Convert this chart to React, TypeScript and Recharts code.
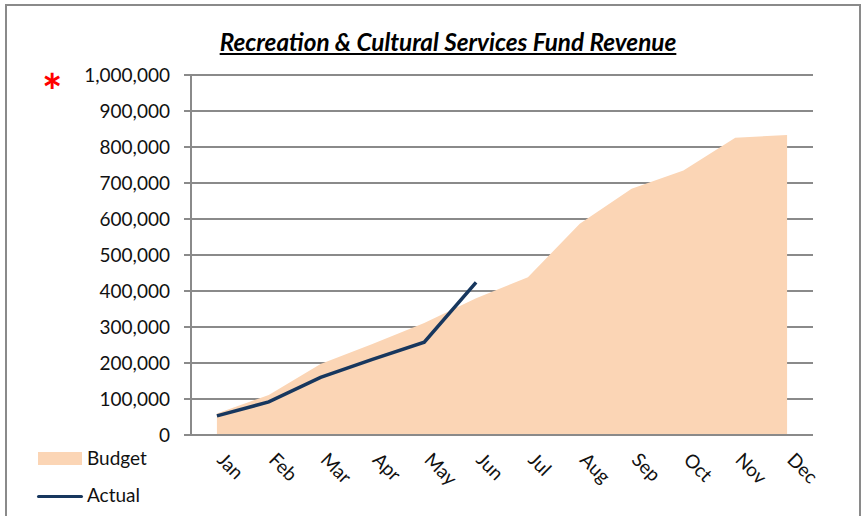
import { ComposedChart, Area, Line, XAxis, YAxis, CartesianGrid } from 'recharts';

const months = ['Jan', 'Feb', 'Mar', 'Apr', 'May', 'Jun', 'Jul', 'Aug', 'Sep', 'Oct', 'Nov', 'Dec'];
const budget = [60000, 111000, 197000, 253000, 311000, 380000, 438000, 587000, 684000, 735000, 826000, 833000];
const actual = [53000, 92000, 160000, 210000, 258000, 424000];
const yTicks = [0, 100000, 200000, 300000, 400000, 500000, 600000, 700000, 800000, 900000, 1000000];

const FONT = 'Lato, "Open Sans", sans-serif';
const GRID = '#8a8a8a';

const data = months.map((m, i) => ({
  month: m,
  budget: budget[i],
  actual: i < actual.length ? actual[i] : null,
}));

// tick marks sit on the band edges, as in the spreadsheet chart
const bandEdges = [...months.map((_, i) => i), months.length];

function MonthTick(props: any) {
  const { x, y, payload } = props;
  const ax = x - 1;
  const ay = y + 17;
  return (
    <text
      x={ax}
      y={ay}
      transform={`rotate(45 ${ax} ${ay})`}
      textAnchor="start"
      fontFamily={FONT}
      fontSize={19}
      fill="#111"
    >
      {payload.value}
    </text>
  );
}

export default function App() {
  return (
    <div style={{ position: 'absolute', left: 0, top: 0, width: 865, height: 516, background: '#fff', fontFamily: FONT }}>
      <div style={{ position: 'absolute', left: 5, top: 4, width: 856, height: 530, border: `2px solid ${GRID}`, borderBottom: 'none', boxSizing: 'border-box' }} />

      <div
        style={{
          position: 'absolute', left: 0, width: 896, top: 27, textAlign: 'center',
          fontSize: 24.3, fontWeight: 700, fontStyle: 'italic', textDecoration: 'underline',
          color: '#000', lineHeight: '30px',
        }}
      >
        Recreation &amp; Cultural Services Fund Revenue
      </div>

      <div style={{ position: 'absolute', left: 42, top: 63, fontSize: 48, color: '#ff0000', lineHeight: '56px', fontWeight: 700 }}>*</div>

      <ComposedChart width={865} height={516} data={data} margin={{ top: 75, right: 52, bottom: 21, left: 0 }}>
        <CartesianGrid xAxisId="months" vertical={false} stroke={GRID} strokeWidth={2} />
        <XAxis
          xAxisId="edges"
          type="number"
          domain={[0, months.length]}
          ticks={bandEdges}
          allowDataOverflow
          tick={false}
          tickSize={6}
          tickLine={{ stroke: GRID, strokeWidth: 2 }}
          axisLine={{ stroke: GRID, strokeWidth: 2 }}
          height={1}
        />
        <XAxis
          xAxisId="months"
          dataKey="month"
          scale="band"
          axisLine={false}
          tickLine={false}
          interval={0}
          height={59}
          tick={<MonthTick />}
        />
        <YAxis
          width={191}
          domain={[0, 1000000]}
          ticks={yTicks}
          interval={0}
          tickFormatter={(v: number) => v.toLocaleString('en-US')}
          tick={{ fontFamily: FONT, fontSize: 19, fill: '#111' }}
          tickSize={7}
          tickMargin={14}
          tickLine={{ stroke: GRID, strokeWidth: 2 }}
          axisLine={{ stroke: GRID, strokeWidth: 2 }}
        />
        <Area
          xAxisId="months"
          type="linear"
          dataKey="budget"
          fill="#fbd5b5"
          fillOpacity={1}
          stroke="none"
          isAnimationActive={false}
        />
        <Line
          xAxisId="months"
          type="linear"
          dataKey="actual"
          stroke="#17375e"
          strokeWidth={3.5}
          dot={false}
          isAnimationActive={false}
        />
      </ComposedChart>

      {/* Legend */}
      <div style={{ position: 'absolute', left: 38, top: 452, width: 44, height: 13, background: '#fbd5b5' }} />
      <div style={{ position: 'absolute', left: 87, top: 446, fontSize: 19, lineHeight: '24px', color: '#111' }}>Budget</div>
      <div style={{ position: 'absolute', left: 37, top: 495, width: 46, height: 3, background: '#17375e', borderRadius: 2 }} />
      <div style={{ position: 'absolute', left: 87, top: 483, fontSize: 19, lineHeight: '24px', color: '#111' }}>Actual</div>
    </div>
  );
}
